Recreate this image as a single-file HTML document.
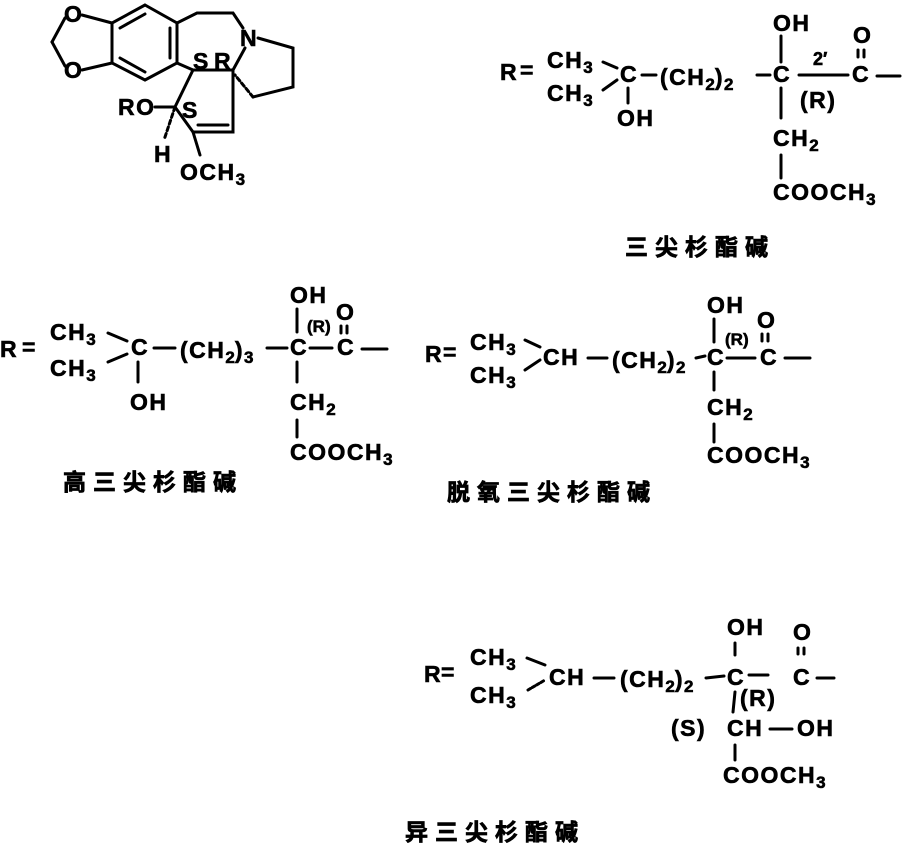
<!DOCTYPE html>
<html><head><meta charset="utf-8"><style>
html,body{margin:0;padding:0;background:#fff;}
svg{display:block;}
text{font-family:"Liberation Sans","Noto Sans CJK SC",sans-serif;font-weight:bold;fill:#000;stroke:#000;stroke-width:0.6;}
.t{font-size:23px;letter-spacing:1.5px;}
.s{font-size:17px;letter-spacing:0;}
.cn{font-size:23px;letter-spacing:7px;font-family:"Noto Sans CJK SC","WenQuanYi Zen Hei",sans-serif;font-weight:bold;stroke-width:0.8;}
line,polyline,polygon{stroke:#000;stroke-width:3;fill:none;stroke-linecap:round;}
</style></head><body>
<svg width="908" height="843" viewBox="0 0 908 843" xmlns="http://www.w3.org/2000/svg">
<!-- Top-left structure -->
<polygon points="145,5 177,23 177,63 145,80 112,63 112,23"/>
<line x1="120" y1="28" x2="145" y2="14"/>
<line x1="170" y1="28" x2="170" y2="58"/>
<line x1="120" y1="58" x2="145" y2="72"/>
<line x1="112" y1="23" x2="82" y2="15"/>
<line x1="112" y1="63" x2="82" y2="70"/>
<line x1="65" y1="18" x2="52" y2="42"/>
<line x1="52" y1="42" x2="65" y2="66"/>
<text class="t" x="64" y="22">O</text>
<text class="t" x="64" y="78">O</text>
<polyline points="177,23 197,13 233,13 243,28"/>
<line x1="177" y1="63" x2="193" y2="70"/>
<line x1="193" y1="70" x2="233" y2="70"/>
<line x1="245" y1="48" x2="233" y2="70"/>
<text class="t" x="240" y="46">N</text>
<polyline points="258,38 293,48 293,87 253,97"/>
<line x1="253" y1="97" x2="235" y2="75" stroke-dasharray="4,3"/>
<polyline points="193,70 175,107 193,132 233,132 233,70"/>
<line x1="198" y1="125" x2="228" y2="125"/>
<line x1="155" y1="107" x2="175" y2="107"/>
<line x1="175" y1="107" x2="164" y2="140" stroke-dasharray="4,3"/>
<line x1="193" y1="132" x2="200" y2="155"/>
<text class="t" x="193" y="69">S</text>
<text class="t" x="214" y="69">R</text>
<text class="t" x="118" y="115">RO</text>
<text class="t" x="182" y="118">S</text>
<text class="t" x="154" y="162">H</text>
<text class="t" x="180" y="180">OCH<tspan class="s" dy="5">3</tspan></text>

<!-- Top-right -->
<text class="t" x="500" y="80">R</text><text class="t" x="520" y="78">=</text>
<text class="t" x="547" y="68">CH<tspan class="s" dy="5">3</tspan></text>
<text class="t" x="547" y="101">CH<tspan class="s" dy="5">3</tspan></text>
<line x1="603" y1="62" x2="617" y2="68"/><line x1="603" y1="90" x2="617" y2="80"/>
<text class="t" x="620" y="82">C</text>
<line x1="628" y1="88" x2="628" y2="103"/>
<text class="t" x="617" y="126">OH</text>
<line x1="642" y1="75" x2="656" y2="75"/>
<text class="t" x="660" y="85">(CH<tspan class="s" dy="5">2</tspan><tspan dy="-5">)</tspan><tspan class="s" dy="5">2</tspan></text>
<line x1="757" y1="75" x2="770" y2="75"/>
<text class="t" x="773" y="82">C</text>
<text class="t" x="773" y="31">OH</text>
<line x1="781" y1="36" x2="781" y2="62"/>
<line x1="781" y1="88" x2="781" y2="118"/>
<line x1="799" y1="75" x2="848" y2="75"/>
<text class="s" x="813" y="65" style="font-size:18px">2′</text>
<text class="t" x="800" y="108">(R)</text>
<text class="t" x="852" y="82">C</text>
<text class="t" x="853" y="43">O</text>
<line x1="858" y1="50" x2="858" y2="57"/><line x1="864" y1="50" x2="864" y2="57"/>
<line x1="877" y1="76" x2="900" y2="76"/>
<text class="t" x="773" y="146">CH<tspan class="s" dy="5">2</tspan></text>
<line x1="781" y1="155" x2="781" y2="178"/>
<text class="t" x="773" y="200">COOCH<tspan class="s" dy="5">3</tspan></text>
<text class="cn" x="625" y="255">三尖杉酯碱</text>

<!-- Middle-left -->
<text class="t" x="0" y="357">R</text><text class="t" x="22" y="355">=</text>
<text class="t" x="50" y="340">CH<tspan class="s" dy="5">3</tspan></text>
<text class="t" x="50" y="376">CH<tspan class="s" dy="5">3</tspan></text>
<line x1="108" y1="333" x2="127" y2="341"/><line x1="108" y1="362" x2="127" y2="354"/>
<text class="t" x="131" y="355">C</text>
<line x1="138" y1="362" x2="138" y2="382"/>
<text class="t" x="130" y="410">OH</text>
<line x1="154" y1="348" x2="175" y2="348"/>
<text class="t" x="180" y="358">(CH<tspan class="s" dy="5">2</tspan><tspan dy="-5">)</tspan><tspan class="s" dy="5">3</tspan></text>
<line x1="267" y1="348" x2="287" y2="348"/>
<text class="t" x="290" y="355">C</text>
<text class="t" x="290" y="303">OH</text>
<line x1="297" y1="309" x2="297" y2="332"/>
<text class="s" x="307" y="332" style="font-size:17px">(R)</text>
<text class="t" x="336" y="320">O</text>
<line x1="341" y1="326" x2="341" y2="333"/><line x1="347" y1="326" x2="347" y2="333"/>
<line x1="310" y1="348" x2="332" y2="348"/>
<text class="t" x="337" y="355">C</text>
<line x1="362" y1="349" x2="387" y2="349"/>
<line x1="297" y1="362" x2="297" y2="382"/>
<text class="t" x="290" y="410">CH<tspan class="s" dy="5">2</tspan></text>
<line x1="297" y1="420" x2="297" y2="437"/>
<text class="t" x="290" y="460">COOCH<tspan class="s" dy="5">3</tspan></text>
<text class="cn" x="63" y="490">高三尖杉酯碱</text>

<!-- Middle-right -->
<text class="t" x="425" y="362">R</text><text class="t" x="443" y="360">=</text>
<text class="t" x="470" y="350">CH<tspan class="s" dy="5">3</tspan></text>
<text class="t" x="470" y="383">CH<tspan class="s" dy="5">3</tspan></text>
<line x1="525" y1="340" x2="540" y2="347"/><line x1="525" y1="370" x2="540" y2="360"/>
<text class="t" x="543" y="365">CH</text>
<line x1="588" y1="358" x2="607" y2="358"/>
<text class="t" x="612" y="368">(CH<tspan class="s" dy="5">2</tspan><tspan dy="-5">)</tspan><tspan class="s" dy="5">2</tspan></text>
<line x1="696" y1="358" x2="705" y2="356"/>
<text class="t" x="707" y="365">C</text>
<text class="t" x="707" y="313">OH</text>
<line x1="714" y1="319" x2="714" y2="342"/>
<text class="s" x="725" y="345" style="font-size:17px">(R)</text>
<text class="t" x="757" y="328">O</text>
<line x1="762" y1="334" x2="762" y2="341"/><line x1="768" y1="334" x2="768" y2="341"/>
<line x1="727" y1="358" x2="755" y2="358"/>
<text class="t" x="760" y="365">C</text>
<line x1="785" y1="358" x2="810" y2="358"/>
<line x1="714" y1="372" x2="714" y2="390"/>
<text class="t" x="707" y="415">CH<tspan class="s" dy="5">2</tspan></text>
<line x1="714" y1="424" x2="714" y2="442"/>
<text class="t" x="707" y="463">COOCH<tspan class="s" dy="5">3</tspan></text>
<text class="cn" x="447" y="500">脱氧三尖杉酯碱</text>

<!-- Bottom -->
<text class="t" x="424" y="682">R</text><text class="t" x="441" y="680">=</text>
<text class="t" x="470" y="665">CH<tspan class="s" dy="5">3</tspan></text>
<text class="t" x="470" y="703">CH<tspan class="s" dy="5">3</tspan></text>
<line x1="527" y1="658" x2="545" y2="665"/><line x1="528" y1="690" x2="545" y2="680" stroke-dasharray="3,2"/>
<text class="t" x="549" y="685">CH</text>
<line x1="594" y1="678" x2="614" y2="678"/>
<text class="t" x="620" y="687">(CH<tspan class="s" dy="5">2</tspan><tspan dy="-5">)</tspan><tspan class="s" dy="5">2</tspan></text>
<line x1="706" y1="678" x2="724" y2="676"/>
<text class="t" x="727" y="685">C</text>
<text class="t" x="727" y="635">OH</text>
<line x1="735" y1="643" x2="735" y2="655"/>
<line x1="749" y1="675" x2="768" y2="675"/>
<text class="t" x="740" y="706">(R)</text>
<text class="t" x="793" y="640">O</text>
<line x1="798" y1="648" x2="798" y2="654"/><line x1="804" y1="648" x2="804" y2="654"/>
<text class="t" x="793" y="685">C</text>
<line x1="817" y1="678" x2="834" y2="678"/>
<line x1="735" y1="692" x2="733" y2="712"/>
<text class="t" x="671" y="736">(S)</text>
<text class="t" x="727" y="736">CH</text>
<line x1="770" y1="729" x2="792" y2="729"/>
<text class="t" x="797" y="736">OH</text>
<line x1="735" y1="745" x2="735" y2="760"/>
<text class="t" x="723" y="783">COOCH<tspan class="s" dy="5">3</tspan></text>
<text class="cn" x="405" y="840">异三尖杉酯碱</text>
</svg>
</body></html>
